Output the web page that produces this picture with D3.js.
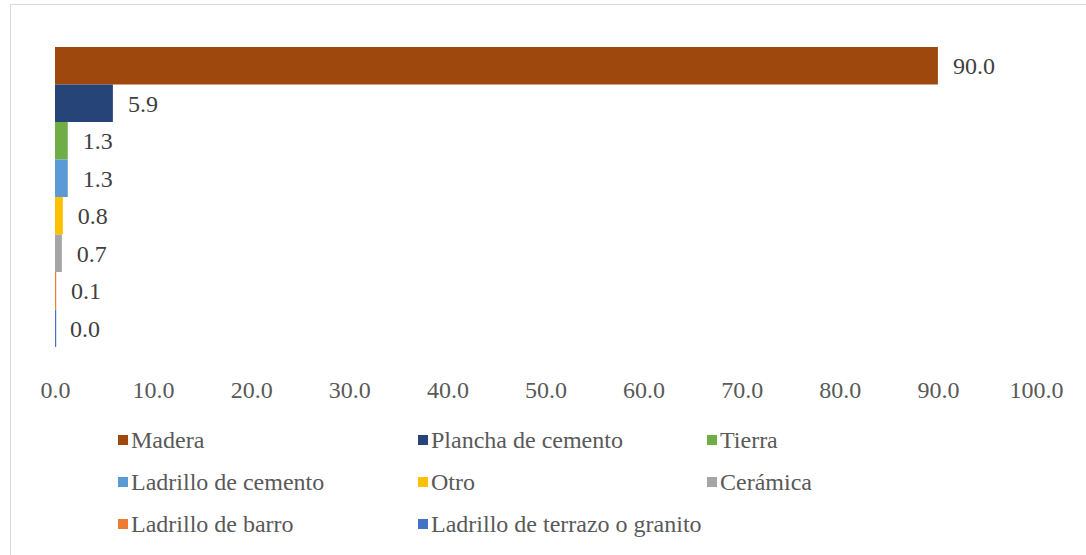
<!DOCTYPE html>
<html>
<head>
<meta charset="utf-8">
<script src="https://cdn.jsdelivr.net/npm/d3@7"></script>
<style>
  html, body { margin: 0; padding: 0; background: #fff; }
  svg text { font-family: "Liberation Serif", "DejaVu Serif", serif; }
</style>
</head>
<body>
<svg id="chart" width="1086" height="555"></svg>
<script>
'use strict';

const categories = ["Madera", "Plancha de cemento", "Tierra", "Ladrillo de cemento",
  "Otro", "Cerámica", "Ladrillo de barro", "Ladrillo de terrazo o granito"];
const values = [90.0, 5.9, 1.3, 1.3, 0.8, 0.7, 0.1, 0.0];
const colors = ["#9E480E", "#264478", "#70AD47", "#5B9BD5", "#FFC000", "#A5A5A5", "#ED7D31", "#4472C4"];
const xTicks = [0, 10, 20, 30, 40, 50, 60, 70, 80, 90, 100];

(() => {
  const svg = d3.select("#chart");
  const width = 1086, height = 555;
  const fontSize = 24;

  // chart frame
  svg.append("rect")
    .attr("x", 10.5).attr("y", 4.5)
    .attr("width", width + 10).attr("height", height + 10)
    .attr("fill", "#fff")
    .attr("stroke", "#d9d9d9")
    .attr("stroke-width", 1);

  const x = d3.scaleLinear().domain([0, 100]).range([55, 1036]);
  const y = d3.scaleBand().domain(categories).range([47, 347]).padding(0);

  // bars
  svg.append("g").selectAll("rect")
    .data(categories)
    .join("rect")
    .attr("x", x(0))
    .attr("y", d => y(d))
    .attr("width", (d, i) => Math.max(1.2, x(values[i]) - x(0)))
    .attr("height", y.bandwidth())
    .attr("fill", (d, i) => colors[i]);

  // data labels
  svg.append("g").selectAll("text")
    .data(categories)
    .join("text")
    .attr("x", (d, i) => x(values[i]) + 15)
    .attr("y", d => y(d) + y.bandwidth() / 2)
    .attr("dy", "0.35em")
    .style("font-size", fontSize + "px")
    .attr("fill", "#404040")
    .text((d, i) => values[i].toFixed(1));

  // x axis (labels only)
  const xAxis = svg.append("g")
    .attr("transform", "translate(0,381)")
    .call(d3.axisBottom(x).tickValues(xTicks).tickSize(0).tickPadding(0).tickFormat(d => d.toFixed(1)));
  xAxis.select(".domain").remove();
  xAxis.attr("font-family", null).attr("font-size", null);
  xAxis.selectAll("text")
    .style("font-size", fontSize + "px")
    .attr("fill", "#595959")
    .attr("dy", "0.71em");

  // legend
  const colX = [118, 418, 707];
  const rowY = [440, 482, 524];
  const legend = svg.append("g").selectAll("g")
    .data(categories)
    .join("g")
    .attr("transform", (d, i) => `translate(${colX[i % 3]},${rowY[Math.floor(i / 3)]})`);

  legend.append("rect")
    .attr("x", 0).attr("y", -5)
    .attr("width", 10).attr("height", 10)
    .attr("fill", (d, i) => colors[i]);

  legend.append("text")
    .attr("x", 13)
    .attr("dy", "0.35em")
    .style("font-size", fontSize + "px")
    .attr("fill", "#595959")
    .text(d => d);
})();
</script>
</body>
</html>
